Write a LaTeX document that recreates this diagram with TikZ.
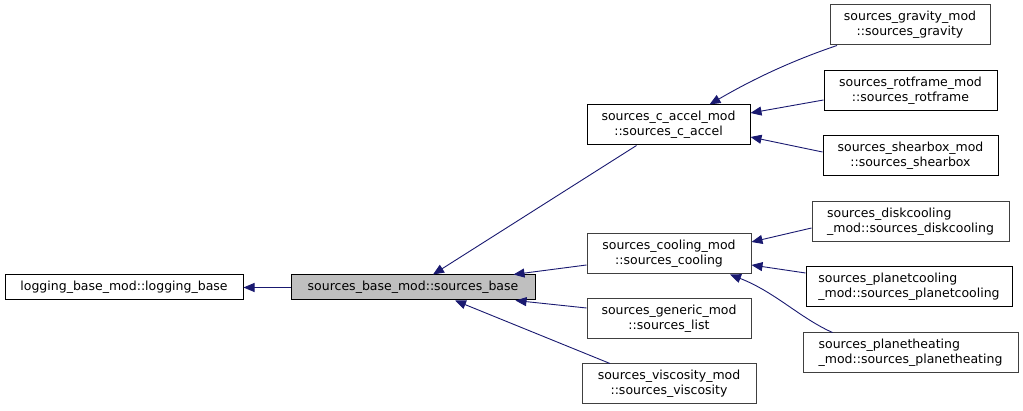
\documentclass[tikz,border=0pt]{standalone}
\usepackage{fontspec}
\setmainfont{DejaVu Sans}
\usetikzlibrary{arrows.meta}
\definecolor{edgeblue}{HTML}{191970}
\definecolor{greyb}{HTML}{404040}
\definecolor{basefill}{HTML}{BFBFBF}
\tikzset{
  box/.style={draw=black, line width=1pt, fill=white, inner sep=0pt, align=center,
    font=\fontsize{12.5pt}{14.7pt}\selectfont},
  greybox/.style={box, draw=greyb},
  lbox/.style={align=left},
  dep/.style={draw=edgeblue, line width=0.9pt, -{Triangle[length=11pt,width=9pt]}, fill=none},
}
\begin{document}
\begin{tikzpicture}[x=1pt,y=-1pt]
\useasboundingbox (0,0) rectangle (1023,411);
\node[box, minimum width=238pt, minimum height=25pt] (logging) at (124,287.5) {logging\_base\_mod::logging\_base};
\node[box, fill=basefill, minimum width=244pt, minimum height=25pt] (base) at (413,287.5) {sources\_base\_mod::sources\_base};
\node[box, minimum width=163pt, minimum height=40pt] (caccel) at (668.5,125) {sources\_c\_accel\_mod\\::sources\_c\_accel};
\node[greybox, minimum width=164pt, minimum height=40pt] (cooling) at (669,254) {sources\_cooling\_mod\\::sources\_cooling};
\node[greybox, minimum width=164pt, minimum height=40pt] (generic) at (669,319) {sources\_generic\_mod\\::sources\_list};
\node[greybox, minimum width=174pt, minimum height=40pt] (viscosity) at (669,384) {sources\_viscosity\_mod\\::sources\_viscosity};
\node[greybox, minimum width=160pt, minimum height=40pt] (gravity) at (910,25) {sources\_gravity\_mod\\::sources\_gravity};
\node[box, minimum width=173pt, minimum height=40pt] (rotframe) at (910.5,91) {sources\_rotframe\_mod\\::sources\_rotframe};
\node[box, minimum width=175pt, minimum height=40pt] (shearbox) at (910.5,156) {sources\_shearbox\_mod\\::sources\_shearbox};
\node[greybox, lbox, minimum width=197pt, minimum height=40pt] (diskcooling) at (910.5,222) {sources\_diskcooling\\\_mod::sources\_diskcooling};
\node[box, lbox, minimum width=206pt, minimum height=40pt] (planetcooling) at (909,287) {sources\_planetcooling\\\_mod::sources\_planetcooling};
\node[greybox, lbox, minimum width=215pt, minimum height=40pt] (planetheating) at (910.5,353) {sources\_planetheating\\\_mod::sources\_planetheating};

\draw[dep] (base.west) -- (logging.east);
\draw[dep] ([xshift=-32pt]caccel.south) -- ([xshift=20pt]base.north);
\draw[dep] ([yshift=-11pt]cooling.west) -- ([xshift=-22pt]base.north east);
\draw[dep] ([yshift=11pt]generic.west) -- ([xshift=-20pt]base.south east);
\draw[dep] ([xshift=-59pt]viscosity.north) -- ([xshift=42pt]base.south);
\draw[dep] ([xshift=-73pt]gravity.south) .. controls (800,58) and (760,75) .. ([xshift=41pt]caccel.north);
\draw[dep] ([yshift=-9pt]rotframe.west) -- ([yshift=12pt]caccel.east);
\draw[dep] ([yshift=4pt]shearbox.west) -- ([yshift=-12pt]caccel.east);
\draw[dep] ([yshift=-6pt]diskcooling.west) -- ([yshift=12pt]cooling.east);
\draw[dep] ([yshift=14pt]planetcooling.west) -- ([yshift=-11pt]cooling.east);
\draw[dep] ([xshift=-78pt]planetheating.north) .. controls (800,318) and (775,292) .. ([xshift=61pt]cooling.south);
\end{tikzpicture}
\end{document}
